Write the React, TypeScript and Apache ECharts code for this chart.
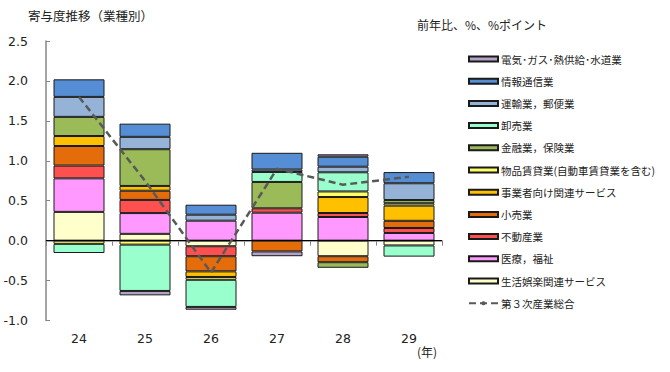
import React, { useEffect, useRef } from "react";
import * as echarts from "echarts";

const categories = ["24", "25", "26", "27", "28", "29"];
const yTicks = [-1.0, -0.5, 0.0, 0.5, 1.0, 1.5, 2.0, 2.5];

const seikatsu = [0.36, 0.085, -0.07, null, -0.195, -0.06];
const iryo = [0.42, 0.26, 0.25, 0.35, 0.296, 0.096];
const fudosan = [0.16, 0.165, -0.125, 0.055, 0.05, 0.0625];
const kouri = [0.245, 0.115, -0.19, -0.135, -0.075, 0.09];
const jigyosha = [0.125, 0.06, -0.07, null, 0.2, 0.19];
const buppin = [-0.04, -0.05, -0.035, null, 0.07, 0.03];
const kinyu = [0.24, 0.46, null, 0.33, -0.07, 0.04];
const oroshi = [-0.115, -0.58, -0.34, 0.125, 0.24, -0.14];
const unyu = [0.25, 0.155, 0.075, 0.03, 0.07, 0.21];
const joho = [0.22, 0.165, 0.125, 0.21, 0.125, 0.14];
const denki = [null, -0.055, -0.035, -0.06, 0.03, null];
const sanji = [1.8, 0.75, -0.4, 0.9, 0.7, 0.8];

const barSeries = [
  { name: "生活娯楽関連サービス", data: seikatsu, color: "#FFFFCC" },
  { name: "医療，福祉", data: iryo, color: "#FF99FF" },
  { name: "不動産業", data: fudosan, color: "#FF5050" },
  { name: "小売業", data: kouri, color: "#E46C0A" },
  { name: "事業者向け関連サービス", data: jigyosha, color: "#FFC000" },
  { name: "物品賃貸業(自動車賃貸業を含む)", data: buppin, color: "#FFFF66" },
  { name: "金融業，保険業", data: kinyu, color: "#9BBB59" },
  { name: "卸売業", data: oroshi, color: "#99FFCC" },
  { name: "運輸業，郵便業", data: unyu, color: "#95B3D7" },
  { name: "情報通信業", data: joho, color: "#558ED5" },
  { name: "電気･ガス･熱供給･水道業", data: denki, color: "#B3A2C7" },
];
const lineName = "第３次産業総合";

export default function App() {
  const ref = useRef<HTMLDivElement>(null);
  useEffect(() => {
    if (!ref.current) return;
    const chart = echarts.init(ref.current, null, { renderer: "svg" });
    const cjk = "'Noto Sans CJK JP', sans-serif";
    const series: any[] = barSeries.map((s) => ({
      name: s.name,
      type: "bar",
      stack: "total",
      barWidth: 51,
      data: s.data,
      itemStyle: { color: s.color, borderColor: "#1a1a1a", borderWidth: 1 },
    }));
    series.push({
      name: lineName,
      type: "line",
      data: sanji,
      symbol: "none",
      lineStyle: { color: "#595959", width: 2.5, type: [7, 4] },
      itemStyle: { color: "#595959" },
      z: 5,
      markLine: {
        silent: true,
        symbol: "none",
        label: { show: false },
        lineStyle: { color: "#000", width: 1, type: "solid" },
        data: [{ yAxis: 0 }],
        z: 4,
      },
    });
    const legendData = [...barSeries].reverse().map((s) => ({ name: s.name, icon: "rect" }));
    legendData.push({ name: lineName } as any);
    chart.setOption({
      animation: false,
      grid: { left: 46, right: 228, top: 41, bottom: 51.5 },
      legend: {
        orient: "vertical",
        left: 468,
        top: 53,
        padding: 0,
        itemWidth: 29,
        itemHeight: 5,
        itemGap: 10.2,
        data: legendData,
        selectedMode: false,
        textStyle: { fontFamily: cjk, fontSize: 10.5, color: "#222", lineHeight: 12, padding: [0, 0, 0, -2] },
      },
      xAxis: {
        type: "category",
        data: categories,
        axisLine: { lineStyle: { color: "#868686", width: 1.5 } },
        axisTick: { show: true, length: 5, inside: false, lineStyle: { color: "#868686" } },
        axisLabel: { fontFamily: "'DejaVu Sans', sans-serif", fontSize: 12.5, color: "#222", margin: 11 },
      },
      yAxis: {
        type: "value",
        min: -1,
        max: 2.5,
        interval: 0.5,
        axisLine: { show: true, lineStyle: { color: "#868686", width: 1.5 } },
        axisTick: { show: true, inside: true, length: 4, lineStyle: { color: "#868686" } },
        splitLine: { show: false },
        axisLabel: {
          fontFamily: "'DejaVu Sans', sans-serif",
          fontSize: 12.5,
          color: "#222",
          margin: 18,
          formatter: (v: number) => {
            const t = yTicks.find((x) => Math.abs(x - v) < 1e-9);
            return (t !== undefined ? t : v).toFixed(1);
          },
        },
      },
      graphic: [
        {
          type: "text",
          left: 28,
          top: 9,
          style: { text: "寄与度推移（業種別）", font: `12.5px ${cjk}`, fill: "#222" },
        },
        {
          type: "text",
          left: 417,
          top: 18,
          style: { text: "前年比、%、%ポイント", font: `12px ${cjk}`, fill: "#222" },
        },
        {
          type: "text",
          left: 417,
          top: 345,
          style: { text: "(年)", font: `12px ${cjk}`, fill: "#222" },
        },
      ],
      series,
    });
    return () => chart.dispose();
  }, []);
  return (
    <div
      ref={ref}
      style={{ position: "absolute", left: 0, top: 0, width: 670, height: 372 }}
    />
  );
}
